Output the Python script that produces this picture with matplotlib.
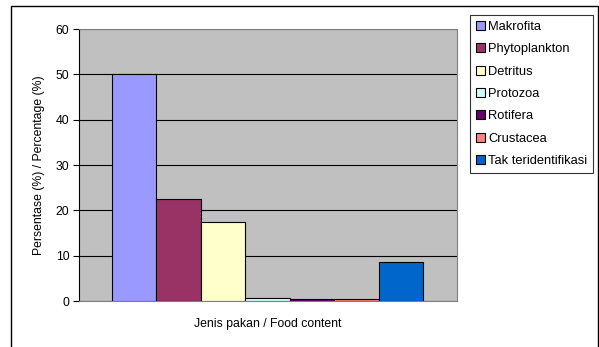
import numpy as np
import matplotlib.pyplot as plt
from matplotlib.patches import Rectangle

plt.rcParams['font.family'] = ['Liberation Sans', 'DejaVu Sans']

# data
categories = ["Makrofita", "Phytoplankton", "Detritus", "Protozoa",
              "Rotifera", "Crustacea", "Tak teridentifikasi"]
values = [50, 22.4, 17.4, 0.7, 0.4, 0.5, 8.5]
colors = ["#9999FF", "#993366", "#FFFFCC", "#CCFFFF",
          "#660066", "#FF8080", "#0066CC"]
yticks = [0, 10, 20, 30, 40, 50, 60]

W, H = 599, 347
fs = 8.8
fig = plt.figure(figsize=(W / 100, H / 100), dpi=100)
ax = fig.add_axes([79 / W, 1 - 301 / H, 378 / W, 272 / H])

# outer chart border
fig.patches.append(Rectangle((11 / W, -0.05), 587 / W, 1 - 6 / H + 0.05,
                             transform=fig.transFigure, fill=False,
                             edgecolor="black", linewidth=1.0))

n = len(values)
x = np.arange(n)
handles = []
for i in range(n):
    b = ax.bar(x[i], values[i], width=1.0, color=colors[i],
               edgecolor="black", linewidth=0.8, align="edge",
               label=categories[i], zorder=3)
    handles.append(b)

ax.set_xlim(-33 / 44.5, n + 34 / 44.5)
ax.set_ylim(0, 60)
ax.set_yticks(yticks)
ax.set_xticks([])
ax.set_facecolor("#C0C0C0")
ax.yaxis.grid(True, color="black", linewidth=0.8, zorder=0)
ax.set_axisbelow(True)
for s in ["top", "right", "bottom"]:
    ax.spines[s].set_color("#808080")
ax.spines["left"].set_color("black")
ax.tick_params(axis="y", labelsize=fs, length=4, width=0.8, pad=3)

ax.set_ylabel("Persentase (%) / Percentage (%)", fontsize=fs, labelpad=8)
ax.set_xlabel("Jenis pakan / Food content", fontsize=fs, labelpad=12)

leg = fig.legend(handles=handles, loc="upper left",
                 bbox_to_anchor=(470 / W, 1 - 15 / H), fontsize=9.3,
                 frameon=True, fancybox=False, borderaxespad=0,
                 handlelength=0.7, handleheight=0.7, handletextpad=0.25,
                 labelspacing=0.8, borderpad=0.45)
leg.get_frame().set_edgecolor("black")
leg.get_frame().set_linewidth(0.8)

fig.savefig("out.png", dpi=100)
